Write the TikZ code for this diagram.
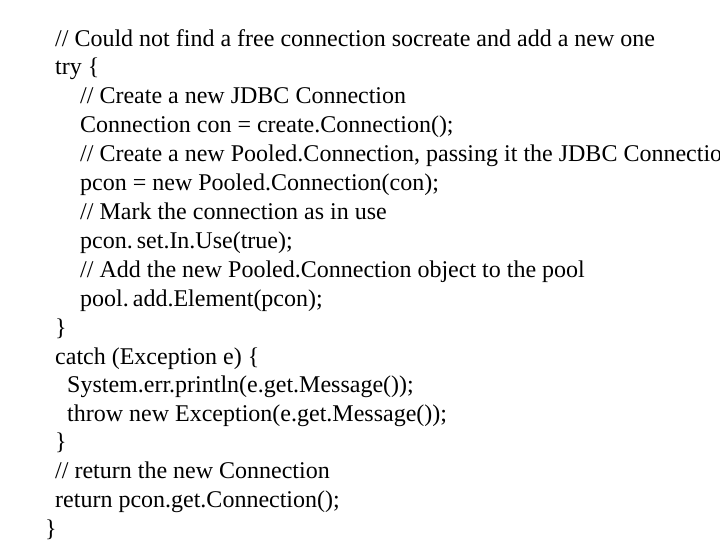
\documentclass[tikz,border=0pt]{standalone}
\usepackage{fontspec}
\setmainfont{Liberation Serif}
\begin{document}
\begin{tikzpicture}[x=1pt,y=-1pt,
  code/.style={anchor=base west,inner sep=0pt,font=\fontsize{24}{28}\selectfont}]
\fill[white] (0,0) rectangle (720,540);
\useasboundingbox (0,0) rectangle (720,540);
\clip (0,0) rectangle (720,540);
\node[code] (l1) at (55,47) {// Could not find a free connection socreate and add a new one};
\node[code] (l2) at (55,75) {try \{};
\node[code] (l3) at (80,104) {// Create a new JDBC Connection};
\node[code] (l4) at (80,133) {Connection con = create.Connection();};
\node[code] (l5) at (80,162) {// Create a new Pooled.Connection, passing it the JDBC Connection};
\node[code] (l6) at (80,191) {pcon = new Pooled.Connection(con);};
\node[code] (l7) at (80,220) {// Mark the connection as in use};
\node[code] (l8) at (80,248) {pcon.\,set.In.Use(true);};
\node[code] (l9) at (80,277) {// Add the new Pooled.Connection object to the pool};
\node[code] (l10) at (80,306) {pool.\,add.Element(pcon);};
\node[code] (l11) at (55,335) {\}};
\node[code] (l12) at (55,364) {catch (Exception e) \{};
\node[code] (l13) at (67,392) {System.err.println(e.get.Message());};
\node[code] (l14) at (67,421) {throw new Exception(e.get.Message());};
\node[code] (l15) at (55,449) {\}};
\node[code] (l16) at (55,478) {// return the new Connection};
\node[code] (l17) at (55,507) {return pcon.get.Connection();};
\node[code] (l18) at (45,536) {\}};
\end{tikzpicture}
\end{document}
